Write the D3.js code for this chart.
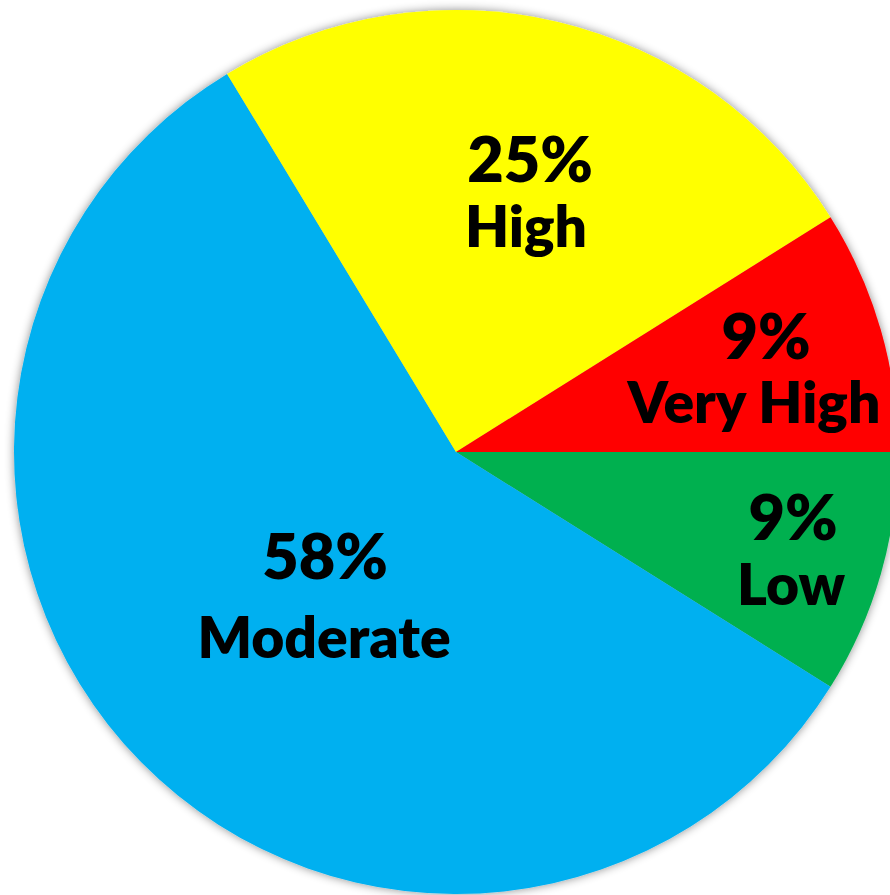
<!DOCTYPE html>
<html>
<head>
<meta charset="utf-8">
<script src="https://cdn.jsdelivr.net/npm/d3@7/dist/d3.min.js"></script>
<style>
  html, body { margin: 0; padding: 0; background: #fff; overflow: hidden; }
  svg { display: block; }
</style>
</head>
<body>
<svg id="chart" width="890" height="895"></svg>
<script>
// ---- data ----
const categories = ["Low", "Moderate", "High", "Very High"];
const values = [9, 58, 25, 9];
const percentLabels = ["9%", "58%", "25%", "9%"];
const colors = ["#00B050", "#00B0F0", "#FFFF00", "#FF0000"];

// ---- layout ----
const cx = 456, cy = 452, R = 442;
// label block placement relative to pie centre:
// [name dx, dy (mid between baselines), baseline gap, extra dx of percent line]
const labelPlace = {
  "Low": [335, 120, 65, 2],
  "Moderate": [-132, 166, 79, 1],
  "High": [70, -238, 65, 4],
  "Very High": [298, -61, 64, 12]
};

const svg = d3.select("#chart");
const defs = svg.append("defs");
const f = defs.append("filter").attr("id", "shadow")
  .attr("x", "-10%").attr("y", "-10%").attr("width", "120%").attr("height", "120%");
f.append("feDropShadow").attr("dx", 0).attr("dy", 0)
  .attr("stdDeviation", 5).attr("flood-color", "#000").attr("flood-opacity", 0.45);

const data = categories.map((c, i) => ({ cat: c, value: values[i], pct: percentLabels[i], color: colors[i] }));

const pie = d3.pie().sort(null).value(d => d.value)
  .startAngle(Math.PI / 2).endAngle(Math.PI / 2 + 2 * Math.PI);
const arc = d3.arc().innerRadius(0).outerRadius(R);

const g = svg.append("g").attr("transform", `translate(${cx},${cy})`);
const arcs = pie(data);

const slices = g.append("g").attr("filter", "url(#shadow)");
slices.selectAll("path").data(arcs).join("path")
  .attr("d", arc)
  .attr("fill", d => d.data.color);

const lbl = g.append("g")
  .attr("font-family", "Lato, 'Open Sans', sans-serif")
  .attr("font-weight", 800)
  .attr("fill", "#000")
  .attr("text-anchor", "middle");

arcs.forEach(d => {
  const [x, ym, gap, px] = labelPlace[d.data.cat];
  lbl.append("text").attr("x", x + px).attr("y", ym - gap / 2)
    .attr("font-size", 63).text(d.data.pct);
  lbl.append("text").attr("x", x).attr("y", ym + gap / 2)
    .attr("font-size", 57).text(d.data.cat);
});
</script>
</body>
</html>
